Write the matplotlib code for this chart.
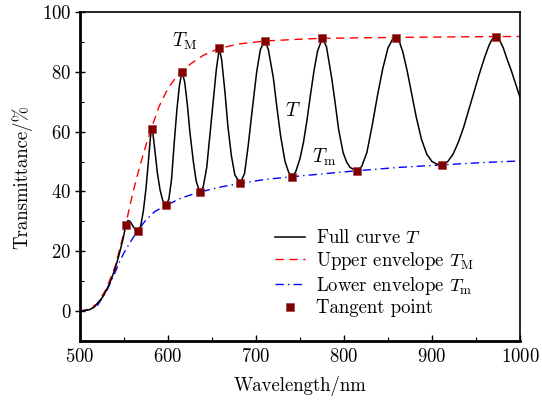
import matplotlib
matplotlib.use('Agg')
import matplotlib.pyplot as plt

plt.rcParams['font.family'] = 'serif'
plt.rcParams['font.serif'] = ['cmr10', 'DejaVu Serif']
plt.rcParams['mathtext.fontset'] = 'cm'
plt.rcParams['axes.formatter.use_mathtext'] = True

# full transmittance curve T
wl = [500, 505, 511, 516, 520, 526, 530, 534, 540, 545, 549, 552, 554.5, 557, 560,
      563, 566, 569, 572, 575, 578, 580, 581.5, 583, 585, 588, 591, 594, 597.7,
      601, 604, 607, 610, 613, 616, 619, 622, 625, 628.8, 632, 636, 640, 644, 648,
      652, 655, 658.3, 661, 664.8, 668, 672, 676, 682, 687, 691, 696, 700.8, 705,
      710, 714, 719.7, 724, 728, 733, 737, 740.5, 745, 750, 754, 758, 762, 766,
      770, 775.4, 780, 786, 790, 794, 799, 803, 807, 814.4, 820, 826, 832, 838,
      844, 850, 855, 859, 863, 867, 872, 877, 882, 888, 894, 900, 906, 911.7, 918,
      924, 930, 936, 942, 948, 954, 960, 965, 969, 973, 977, 981, 985, 990, 995, 1000]
T = [0, 0.1, 0.5, 1.3, 2.6, 4.8, 7, 9.5, 14.2, 19.5, 24.2, 28.7, 30.3, 30, 28.5,
     27.2, 26.8, 28.5, 33.5, 41, 51, 58, 61, 59, 54, 46, 40.5, 37, 35.3,
     37.5, 44, 56, 67, 75.5, 80.1, 76.5, 69, 59.5, 50, 43.5, 39.8, 41.5, 48, 60,
     72, 81, 87.8, 84, 73, 62, 52, 45.5, 42.7, 46, 55, 68, 80, 87.5,
     90.3, 87.5, 78, 67.5, 58.5, 50, 46.5, 44.9, 46.5, 51, 56.5, 64, 72.5, 80.5,
     87, 91.2, 88.5, 78, 69.5, 60.5, 53, 49.8, 48, 46.9, 48.3, 53, 62, 72,
     81, 88, 90.8, 91.4, 90, 86.5, 80, 72.5, 65, 57.5, 52.5, 50, 49.1, 48.9, 50,
     52.5, 56.5, 61.5, 67.5, 73.5, 79.5, 85, 89, 91.2, 91.7, 90.5, 88, 84.5, 80.5, 76, 71.4]

# upper envelope T_M
wl_up = [500, 510, 520, 530, 540, 548, 552, 560, 568, 575, 581, 590, 600, 610, 616,
         625, 640, 658, 680, 710, 750, 775, 860, 973, 1000]
T_up = [0, 0.6, 2.6, 7.5, 15, 24, 29, 39.5, 48.5, 55.5, 61, 68.5, 74.5, 78.5, 80.3,
        82.5, 85.5, 87.8, 89.3, 90.3, 90.9, 91.2, 91.5, 91.8, 91.8]

# lower envelope T_m
wl_lo = [500, 510, 520, 530, 540, 545, 550, 557, 565.5, 575, 585, 597.7, 615, 636,
         660, 682, 710, 740, 780, 814, 860, 912, 960, 1000]
T_lo = [0, 0.5, 2, 6.5, 13, 16.5, 19.5, 23, 26.9, 30.5, 33.3, 35.3, 37.8, 39.8,
        41.5, 42.7, 44, 44.9, 46, 46.9, 48, 48.9, 49.7, 50.2]

# tangent points
sq_x = [552, 565.5, 581.4, 597.7, 616, 636, 658.3, 682, 710, 740.5, 775, 814.4, 859, 911.7, 973]
sq_y = [28.7, 26.9, 61, 35.4, 80.1, 39.8, 87.8, 42.7, 90.3, 44.9, 91.2, 46.9, 91.4, 48.9, 91.7]

fig = plt.figure(figsize=(5.42, 4.01), dpi=100)
ax = fig.add_axes([0.1476, 0.1496, 0.8118, 0.8205])

ax.plot(wl, T, color='black', lw=1.1, label='Full curve $T$', zorder=3)
ax.plot(wl_up, T_up, color='red', lw=1.0, ls=(0, (6, 4)),
        label=r'Upper envelope $T_\mathrm{M}$', zorder=2)
ax.plot(wl_lo, T_lo, color='blue', lw=1.0, ls=(0, (6, 3, 1, 3)),
        label=r'Lower envelope $T_\mathrm{m}$', zorder=2)
ax.plot(sq_x, sq_y, ls='none', marker='s', ms=6.2, color='#800000',
        mec='#9a3030', mew=0.4, label='Tangent point', zorder=4)

ax.text(619, 90.3, r'$T_\mathrm{M}$', fontsize=14, ha='center', va='center')
ax.text(742, 67, r'$T$', fontsize=14, ha='center', va='center')
ax.text(778, 51.3, r'$T_\mathrm{m}$', fontsize=14, ha='center', va='center')

ax.set_xlim(500, 1000)
ax.set_ylim(-10, 100)
ax.set_xticks([500, 600, 700, 800, 900, 1000])
ax.set_xticks([550, 650, 750, 850, 950], minor=True)
ax.set_yticks([0, 20, 40, 60, 80, 100])
ax.set_yticks([-10, 10, 30, 50, 70, 90], minor=True)
ax.tick_params(which='both', direction='in', labelsize=13.5, top=False, right=False)
ax.tick_params(axis='x', which='major', length=4.5, width=1.0, pad=5)
ax.tick_params(axis='y', which='major', direction='inout', length=6.5, width=1.0, pad=3)
ax.tick_params(which='minor', length=3, width=0.8)
ax.spines['left'].set_linewidth(2.0)
ax.spines['bottom'].set_linewidth(2.0)
ax.spines['top'].set_linewidth(1.2)
ax.spines['right'].set_linewidth(1.2)

ax.set_xlabel('Wavelength/nm', fontsize=13.5, labelpad=7)
ax.set_ylabel('Transmittance/%', fontsize=13.5, labelpad=7)

ax.legend(loc='upper left', bbox_to_anchor=(0.426, 0.362), frameon=False,
          fontsize=13.5, handlelength=1.6, handletextpad=0.6, labelspacing=0.14,
          borderaxespad=0)

fig.savefig('out.png', dpi=100)
